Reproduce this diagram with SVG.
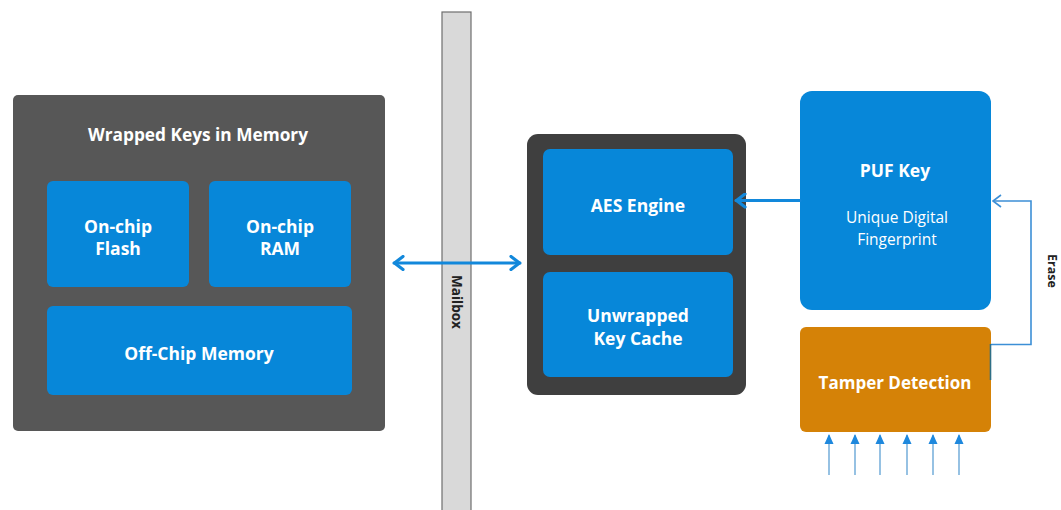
<svg xmlns="http://www.w3.org/2000/svg" width="1061" height="510" viewBox="0 0 1061 510">
<defs>
<style>
.lbl{font-family:"Open Sans","Liberation Sans",sans-serif;font-weight:bold;fill:#fff;text-anchor:middle}
.sub{font-family:"Open Sans","Liberation Sans",sans-serif;fill:#fff;text-anchor:middle}
.dark{font-family:"Open Sans","Liberation Sans",sans-serif;font-weight:bold;fill:#222;text-anchor:middle}
.blue{fill:#0787D9}
.thick{stroke:#1288DB;stroke-width:3.2;fill:none;stroke-linecap:round;stroke-linejoin:round}
.thin{stroke:#3C8FD6;stroke-width:1.6;fill:none}
.inp{stroke:#8BBBE0;stroke-width:1.8;fill:none}
</style>
<marker id="chev" viewBox="0 0 12 16" refX="11" refY="8" markerWidth="12" markerHeight="16" markerUnits="userSpaceOnUse" orient="auto-start-reverse">
<path d="M2,1.5 L10.5,8 L2,14.5" fill="none" stroke="#1288DB" stroke-width="3.2" stroke-linecap="round" stroke-linejoin="round"/>
</marker>
<marker id="open" viewBox="0 0 10 14" refX="9" refY="7" markerWidth="10" markerHeight="14" markerUnits="userSpaceOnUse" orient="auto">
<path d="M1,1 L9,7 L1,13" fill="none" stroke="#3C8FD6" stroke-width="1.6"/>
</marker>
<marker id="tri" viewBox="0 0 10 10" refX="9" refY="5" markerWidth="10" markerHeight="10" markerUnits="userSpaceOnUse" orient="auto">
<path d="M0,0.5 L10,5 L0,9.5 Z" fill="#1E88DD"/>
</marker>
</defs>
<rect width="1061" height="510" fill="#fff"/>

<g id="mailbox">
<rect x="442" y="12" width="29" height="500" fill="#D9D9D9" stroke="#6E6E6E" stroke-width="1.2"/>
<text class="dark" font-size="13.5" transform="translate(452,302) rotate(90)">Mailbox</text>
</g>

<g id="wrapped-keys">
<rect x="13" y="95" width="372" height="336" rx="5" fill="#575757"/>
<text class="lbl" x="198" y="141" font-size="17.3">Wrapped Keys in Memory</text>
</g>
<g id="onchip-flash">
<rect class="blue" x="47" y="181" width="142" height="106" rx="6"/>
<text class="lbl" x="118" y="233" font-size="17.5">On-chip</text>
<text class="lbl" x="118" y="255" font-size="17.5">Flash</text>
</g>
<g id="onchip-ram">
<rect class="blue" x="209" y="181" width="142" height="106" rx="6"/>
<text class="lbl" x="280" y="233" font-size="17.5">On-chip</text>
<text class="lbl" x="280" y="255" font-size="17.5">RAM</text>
</g>
<g id="offchip-memory">
<rect class="blue" x="47" y="306" width="305" height="89" rx="6"/>
<text class="lbl" x="199" y="360" font-size="17.5">Off-Chip Memory</text>
</g>

<g id="aes-block">
<rect x="527" y="134" width="219" height="261" rx="11" fill="#3F3F3F"/>
</g>
<g id="aes-engine">
<rect class="blue" x="543" y="149" width="190" height="106" rx="7"/>
<text class="lbl" x="638" y="212" font-size="17.5">AES Engine</text>
</g>
<g id="key-cache">
<rect class="blue" x="543" y="272" width="190" height="105" rx="7"/>
<text class="lbl" x="638" y="322" font-size="17.5">Unwrapped</text>
<text class="lbl" x="638" y="345" font-size="17.5">Key Cache</text>
</g>

<g id="puf-key">
<rect class="blue" x="800" y="91" width="191" height="219" rx="12"/>
<text class="lbl" x="895" y="177" font-size="17.5">PUF Key</text>
<text class="sub" x="897" y="223" font-size="15.5">Unique Digital</text>
<text class="sub" x="897" y="245" font-size="15.5">Fingerprint</text>
</g>

<g id="tamper-detection">
<rect x="800" y="327" width="191" height="105" rx="6" fill="#D58207"/>
<text class="lbl" x="895" y="389" font-size="17">Tamper Detection</text>
</g>

<g id="connectors">
<line class="thick" x1="394" y1="263" x2="520" y2="263" marker-start="url(#chev)" marker-end="url(#chev)"/>
<line class="thick" x1="800" y1="200.5" x2="736" y2="200.5" marker-end="url(#chev)"/>
<polyline class="thin" points="991,344.5 1031,344.5 1031,201 993,201" marker-end="url(#open)"/>
<line x1="990.5" y1="344" x2="990.5" y2="380" stroke="#2F6F86" stroke-width="1.6"/>
<text class="dark" font-size="12.5" transform="translate(1048,271) rotate(90)">Erase</text>
<line class="inp" x1="829" y1="475" x2="829" y2="435" marker-end="url(#tri)"/>
<line class="inp" x1="855" y1="475" x2="855" y2="435" marker-end="url(#tri)"/>
<line class="inp" x1="880" y1="475" x2="880" y2="435" marker-end="url(#tri)"/>
<line class="inp" x1="907" y1="475" x2="907" y2="435" marker-end="url(#tri)"/>
<line class="inp" x1="933" y1="475" x2="933" y2="435" marker-end="url(#tri)"/>
<line class="inp" x1="959" y1="475" x2="959" y2="435" marker-end="url(#tri)"/>
</g>
</svg>
